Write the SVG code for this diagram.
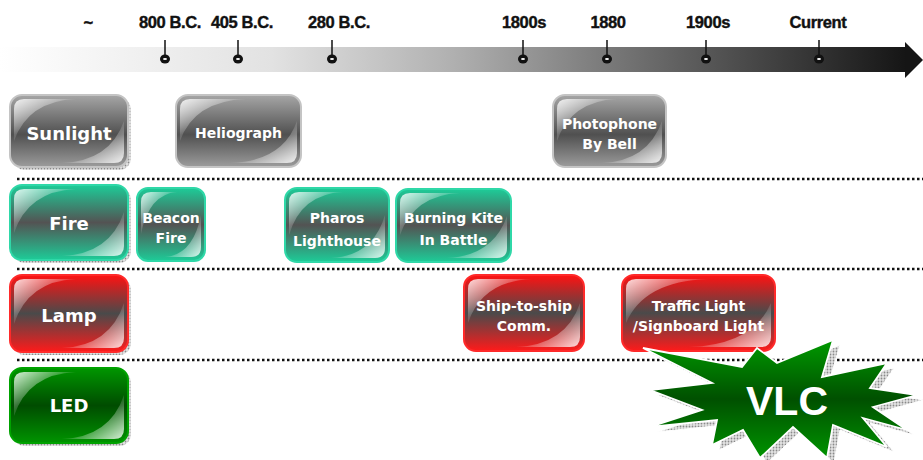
<svg xmlns="http://www.w3.org/2000/svg" width="923" height="460" viewBox="0 0 923 460">
<defs>
<linearGradient id="bar" x1="0" y1="0" x2="1" y2="0">
<stop offset="0" stop-color="#ffffff"/>
<stop offset="0.3" stop-color="#e2e2e2"/>
<stop offset="0.5" stop-color="#b0b0b0"/>
<stop offset="0.75" stop-color="#606060"/>
<stop offset="1" stop-color="#151515"/>
</linearGradient>
<linearGradient id="g-gray" x1="0" y1="0" x2="0" y2="1">
<stop offset="0" stop-color="#a6a6a6"/>
<stop offset="0.55" stop-color="#505050"/>
<stop offset="1" stop-color="#9c9c9c"/>
</linearGradient>
<linearGradient id="g-teal" x1="0" y1="0" x2="0" y2="1">
<stop offset="0" stop-color="#1dcc98"/>
<stop offset="0.5" stop-color="#535353"/>
<stop offset="1" stop-color="#1dcc98"/>
</linearGradient>
<linearGradient id="g-red" x1="0" y1="0" x2="0" y2="1">
<stop offset="0" stop-color="#ff1212"/>
<stop offset="0.5" stop-color="#4a4a4a"/>
<stop offset="1" stop-color="#ff1a1a"/>
</linearGradient>
<linearGradient id="g-green" x1="0" y1="0" x2="0" y2="1">
<stop offset="0" stop-color="#009600"/>
<stop offset="0.5" stop-color="#004c00"/>
<stop offset="1" stop-color="#009400"/>
</linearGradient>
<linearGradient id="g-star" x1="0" y1="0" x2="0" y2="1">
<stop offset="0" stop-color="#009a00"/>
<stop offset="0.5" stop-color="#005000"/>
<stop offset="1" stop-color="#009400"/>
</linearGradient>
<linearGradient id="gloss-tl" x1="0" y1="0" x2="1" y2="1">
<stop offset="0" stop-color="#ffffff" stop-opacity="0.85"/>
<stop offset="0.45" stop-color="#ffffff" stop-opacity="0.15"/>
<stop offset="0.8" stop-color="#ffffff" stop-opacity="0"/>
</linearGradient>
<linearGradient id="gloss-br" x1="1" y1="1" x2="0" y2="0">
<stop offset="0" stop-color="#ffffff" stop-opacity="0.85"/>
<stop offset="0.45" stop-color="#ffffff" stop-opacity="0.15"/>
<stop offset="0.8" stop-color="#ffffff" stop-opacity="0"/>
</linearGradient>
<pattern id="tex" width="3" height="3" patternUnits="userSpaceOnUse">
<rect width="3" height="3" fill="#e4e4e4"/>
<circle cx="1.5" cy="1.5" r="0.9" fill="#8a8a8a"/>
</pattern>
</defs>
<style>
.tl{font-family:"Liberation Sans",Arial,sans-serif;font-weight:bold;font-size:16.5px;letter-spacing:-0.4px;fill:#111;text-anchor:middle;stroke:#111;stroke-width:0.4}
.lbl{font-family:"DejaVu Sans",Verdana,sans-serif;font-weight:bold;font-size:14px;fill:#fff;text-anchor:middle}
.big{font-size:18px}
.sep{stroke:#111;stroke-width:2.5;stroke-dasharray:2.5 2.5;fill:none}
.tick{stroke:#111;stroke-width:1.5}
.gray{fill:url(#g-gray);stroke:#c4c4c4;stroke-width:2}
.teal{fill:url(#g-teal);stroke:#2fd8a8;stroke-width:2}
.red{fill:url(#g-red);stroke:#ff2a2a;stroke-width:2}
.green{fill:url(#g-green);stroke:#00a200;stroke-width:2}
.shadow{fill:url(#tex)}
.gtl{fill:url(#gloss-tl)}
.gbr{fill:url(#gloss-br)}
</style>
<rect width="923" height="460" fill="#ffffff"/>

<g id="timeline">
<rect x="0" y="47" width="906" height="25" fill="url(#bar)"/>
<polygon points="905,42 923,60 905,78" fill="#151515"/>
<g class="tick">
<line x1="165" y1="40" x2="165" y2="55"/>
<line x1="238" y1="40" x2="238" y2="55"/>
<line x1="332" y1="40" x2="332" y2="55"/>
<line x1="523" y1="40" x2="523" y2="55"/>
<line x1="607" y1="40" x2="607" y2="55"/>
<line x1="706" y1="40" x2="706" y2="55"/>
<line x1="819" y1="40" x2="819" y2="55"/>
</g>
<g fill="#111">
<ellipse cx="165" cy="59" rx="5" ry="4.5"/>
<ellipse cx="238" cy="59" rx="5" ry="4.5"/>
<ellipse cx="332" cy="59" rx="5" ry="4.5"/>
<ellipse cx="523" cy="59" rx="5" ry="4.5"/>
<ellipse cx="607" cy="59" rx="5" ry="4.5"/>
<ellipse cx="706" cy="59" rx="5" ry="4.5"/>
<ellipse cx="819" cy="59" rx="5" ry="4.5"/>
</g>
<g fill="#fff">
<ellipse cx="165" cy="59" rx="2" ry="1.1"/>
<ellipse cx="238" cy="59" rx="2" ry="1.1"/>
<ellipse cx="332" cy="59" rx="2" ry="1.1"/>
<ellipse cx="523" cy="59" rx="2" ry="1.1"/>
<ellipse cx="607" cy="59" rx="2" ry="1.1"/>
<ellipse cx="706" cy="59" rx="2" ry="1.1"/>
<ellipse cx="819" cy="59" rx="2" ry="1.1"/>
</g>
<text class="tl" x="88" y="28">~</text>
<text class="tl" x="170" y="28">800 B.C.</text>
<text class="tl" x="242" y="28">405 B.C.</text>
<text class="tl" x="339" y="28">280 B.C.</text>
<text class="tl" x="524" y="28">1800s</text>
<text class="tl" x="608" y="28">1880</text>
<text class="tl" x="708" y="28">1900s</text>
<text class="tl" x="818" y="28">Current</text>
</g>

<g id="connectors">
<line class="sep" x1="17" y1="179" x2="923" y2="179"/>
<line class="sep" x1="17" y1="269" x2="923" y2="269"/>
<line class="sep" x1="17" y1="360" x2="923" y2="360"/>
</g>

<g id="n-sunlight" transform="translate(10,95)">
<rect class="shadow" x="3" y="3" width="118" height="72" rx="12"/>
<rect class="gray" width="118" height="72" rx="12"/>
<path class="gtl" d="M4,46 L4,14 Q4,4 14,4 L66,4 Q18,6 4,46 Z"/>
<path class="gbr" d="M114,26 L114,58 Q114,68 104,68 L52,68 Q100,66 114,26 Z"/>
<text class="lbl big" x="59" y="45">Sunlight</text>
</g>
<g id="n-heliograph" transform="translate(176,95)">
<rect class="gray" width="125" height="72" rx="12"/>
<path class="gtl" d="M4,46 L4,14 Q4,4 14,4 L70,4 Q18,6 4,46 Z"/>
<path class="gbr" d="M121,26 L121,58 Q121,68 111,68 L55,68 Q107,66 121,26 Z"/>
<text class="lbl" x="62.5" y="43">Heliograph</text>
</g>
<g id="n-photophone" transform="translate(553,95)">
<rect class="gray" width="113" height="72" rx="12"/>
<path class="gtl" d="M4,46 L4,14 Q4,4 14,4 L64,4 Q18,6 4,46 Z"/>
<path class="gbr" d="M109,26 L109,58 Q109,68 99,68 L49,68 Q95,66 109,26 Z"/>
<text class="lbl" x="56.5" y="34">Photophone</text>
<text class="lbl" x="56.5" y="54">By Bell</text>
</g>

<g id="n-fire" transform="translate(10,185)">
<rect class="shadow" x="3" y="3" width="118" height="75" rx="12"/>
<rect class="teal" width="118" height="75" rx="12"/>
<path class="gtl" d="M4,48 L4,14 Q4,4 14,4 L66,4 Q18,6 4,48 Z"/>
<path class="gbr" d="M114,27 L114,61 Q114,71 104,71 L52,71 Q100,69 114,27 Z"/>
<text class="lbl big" x="59" y="45">Fire</text>
</g>
<g id="n-beacon" transform="translate(137,188)">
<rect class="teal" width="68" height="73" rx="11"/>
<path class="gtl" d="M4,46 L4,14 Q4,4 14,4 L40,4 Q12,6 4,46 Z"/>
<path class="gbr" d="M64,27 L64,59 Q64,69 54,69 L28,69 Q56,67 64,27 Z"/>
<text class="lbl" x="34" y="35">Beacon</text>
<text class="lbl" x="34" y="55">Fire</text>
</g>
<g id="n-pharos" transform="translate(285,188)">
<rect class="teal" width="104" height="74" rx="12"/>
<path class="gtl" d="M4,47 L4,14 Q4,4 14,4 L58,4 Q16,6 4,47 Z"/>
<path class="gbr" d="M100,27 L100,60 Q100,70 90,70 L46,70 Q88,68 100,27 Z"/>
<text class="lbl" x="52" y="35">Pharos</text>
<text class="lbl" x="52" y="58">Lighthouse</text>
</g>
<g id="n-kite" transform="translate(396,189)">
<rect class="teal" width="115" height="73" rx="12"/>
<path class="gtl" d="M4,46 L4,14 Q4,4 14,4 L64,4 Q18,6 4,46 Z"/>
<path class="gbr" d="M111,27 L111,59 Q111,69 101,69 L51,69 Q97,67 111,27 Z"/>
<text class="lbl" x="57.5" y="34">Burning Kite</text>
<text class="lbl" x="57.5" y="56">In Battle</text>
</g>

<g id="n-lamp" transform="translate(10,275)">
<rect class="shadow" x="3" y="3" width="118" height="77" rx="12"/>
<rect class="red" width="118" height="77" rx="12"/>
<path class="gtl" d="M4,49 L4,14 Q4,4 14,4 L66,4 Q18,6 4,49 Z"/>
<path class="gbr" d="M114,28 L114,63 Q114,73 104,73 L52,73 Q100,71 114,28 Z"/>
<text class="lbl big" x="59" y="47">Lamp</text>
</g>
<g id="n-ship" transform="translate(464,275)">
<rect class="red" width="120" height="76" rx="12"/>
<path class="gtl" d="M4,48 L4,14 Q4,4 14,4 L68,4 Q18,6 4,48 Z"/>
<path class="gbr" d="M116,28 L116,62 Q116,72 106,72 L52,72 Q102,70 116,28 Z"/>
<text class="lbl" x="60" y="36">Ship-to-ship</text>
<text class="lbl" x="60" y="56">Comm.</text>
</g>
<g id="n-traffic" transform="translate(622,275)">
<rect class="red" width="153" height="76" rx="12"/>
<path class="gtl" d="M4,48 L4,14 Q4,4 14,4 L86,4 Q22,6 4,48 Z"/>
<path class="gbr" d="M149,28 L149,62 Q149,72 139,72 L67,72 Q131,70 149,28 Z"/>
<text class="lbl" x="76.5" y="36">Traffic Light</text>
<text class="lbl" x="76.5" y="56">/Signboard Light</text>
</g>

<g id="n-led" transform="translate(10,368)">
<rect class="shadow" x="3" y="3" width="118" height="75" rx="12"/>
<rect class="green" width="118" height="75" rx="12"/>
<path class="gtl" d="M4,48 L4,14 Q4,4 14,4 L66,4 Q18,6 4,48 Z"/>
<path class="gbr" d="M114,27 L114,61 Q114,71 104,71 L52,71 Q100,69 114,27 Z"/>
<text class="lbl big" x="59" y="44">LED</text>
</g>

<g id="n-vlc">
<polygon transform="translate(7,5)" fill="url(#tex)" stroke="#ffffff" stroke-width="1" points="643,348 742,367 757,348 777,363 833,340 822,377 887,363 870,388 917,395 873,407 907,430 863,418 887,447 833,425 827,458 793,427 760,458 743,430 712,445 717,420 650,427 702,410 650,390 712,383"/>
<polygon fill="url(#g-star)" stroke="#ffffff" stroke-width="1.8" stroke-linejoin="miter" points="643,348 742,367 757,348 777,363 833,340 822,377 887,363 870,388 917,395 873,407 907,430 863,418 887,447 833,425 827,458 793,427 760,458 743,430 712,445 717,420 650,427 702,410 650,390 712,383"/>
<text x="787" y="415" font-family="Liberation Sans, Arial, sans-serif" font-weight="bold" font-size="41" fill="#ffffff" text-anchor="middle">VLC</text>
</g>
</svg>
